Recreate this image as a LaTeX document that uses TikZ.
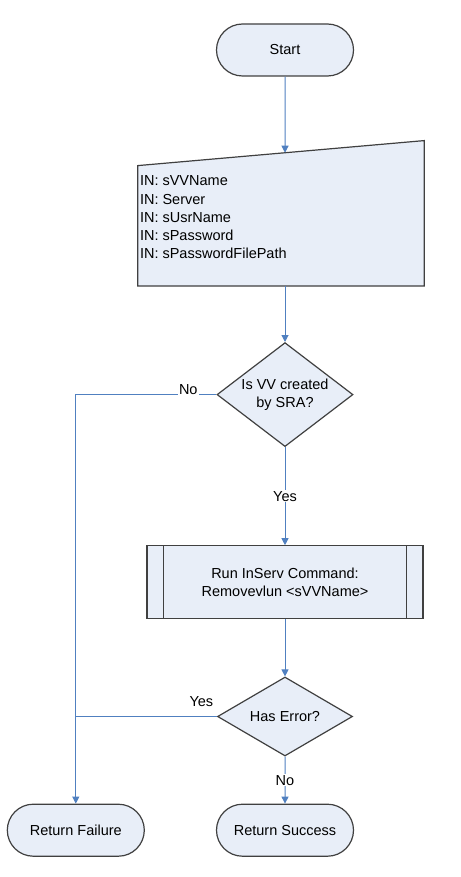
\documentclass[tikz,border=0pt]{standalone}
\usepackage{fontspec}
\setmainfont{Liberation Sans}
\usetikzlibrary{shapes.geometric,shapes.misc,positioning,calc,arrows.meta}

\definecolor{boxfill}{HTML}{E8EEF8}
\definecolor{boxline}{HTML}{404040}
\definecolor{flowline}{HTML}{5080C0}

\tikzset{
  shapeline/.style={draw=boxline, fill=boxfill, line width=1.2pt},
  term/.style={rounded rectangle, shapeline, minimum width=137pt, minimum height=52pt, inner sep=0},
  inbox/.style={rectangle, minimum width=286pt, minimum height=145pt, inner sep=0},
  decision/.style={diamond, shapeline, minimum width=136pt, minimum height=104pt, inner sep=0},
  process/.style={rectangle, shapeline, minimum width=276pt, minimum height=73pt, align=center},
  flow/.style={draw=flowline, line width=1pt},
  onflow/.style={fill=white, inner sep=1pt}
}

\begin{document}
\begin{tikzpicture}[>={Triangle[length=7pt,width=7pt]}, every node/.style={font=\fontsize{14.5}{18.3}\selectfont}]
\useasboundingbox (0,0) rectangle (460pt,-877pt);

\node[term] (start) at (285pt,-50pt) {Start};
\node[inbox, below=64pt of start, xshift=-4pt] (in) {};
\coordinate (slant) at ([yshift=-25pt]in.north west);
\draw[shapeline] (slant) -- (in.north east) -- (in.south east) -- (in.south west) -- cycle;
\node[anchor=north west, align=left, inner sep=0] (intext) at ([xshift=2pt,yshift=-35pt]in.north west)
  {IN: sVVName\\IN: Server\\IN: sUsrName\\IN: sPassword\\IN: sPasswordFilePath};

\node[decision, below=56pt of in, xshift=4pt, label={[align=center]center:Is VV created\\by SRA?}] (dec1) {};
\node[process, below=98pt of dec1] (run) {Run InServ Command:\\Removevlun <sVVName>};
\draw[shapeline] ([xshift=17pt]run.north west) -- ([xshift=17pt]run.south west);
\draw[shapeline] ([xshift=-17pt]run.north east) -- ([xshift=-17pt]run.south east);
\node[decision, minimum width=135pt, minimum height=79pt, below=57pt of run, label=center:Has Error?] (dec2) {};
\node[term, below=47pt of dec2] (succ) {Return Success};
\node[term, left=71pt of succ] (fail) {Return Failure};

% connectors
\draw[flow,->] (start) -- ($(slant)!0.514!(in.north east)$);
\draw[flow,->] (dec1.north |- in.south) -- (dec1.north);
\draw[flow,->] (dec1) -- node[onflow] {Yes} (run);
\draw[flow,->] (dec1.west) -- node[onflow, pos=0.2, yshift=5pt] {No} (fail.north |- dec1.west) -- (fail.north);
\draw[flow,->] (run) -- (dec2);
\draw[flow] (dec2.west) -- node[pos=0.11, above=6pt] {Yes} (fail.north |- dec2.west);
\draw[flow,->] (dec2) -- node[onflow] {No} (succ);
\end{tikzpicture}
\end{document}
